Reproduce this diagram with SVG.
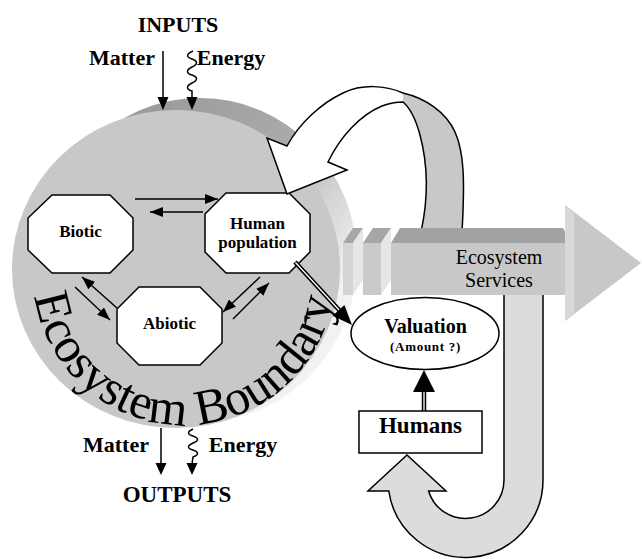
<svg xmlns="http://www.w3.org/2000/svg" width="642" height="559" viewBox="0 0 642 559">
<style>
.t{font-family:"Liberation Serif","Times New Roman",serif;fill:#000}
.b{font-weight:bold}
.oct{fill:#fff;stroke:#000;stroke-width:1.5}
.ln{stroke:#000;stroke-width:1.5;fill:none}
.hd{fill:#000}
</style>
<defs>
<linearGradient id="rimG" gradientUnits="userSpaceOnUse" x1="170" y1="95" x2="360" y2="265">
<stop offset="0" stop-color="#9c9c9c"/>
<stop offset="0.45" stop-color="#aaaaaa"/>
<stop offset="0.75" stop-color="#d6d6d6"/>
<stop offset="1" stop-color="#f2f2f2"/>
</linearGradient>
<marker id="ah" markerUnits="userSpaceOnUse" markerWidth="13" markerHeight="10" refX="13" refY="5" orient="auto">
<path d="M0,0 L13,5 L0,10 z" fill="#000"/>
</marker>
<path id="bp" d="M 33 274 A 151 151 0 0 0 335 274"/>
</defs>

<g id="ecosystem">
<ellipse cx="200" cy="260" rx="157" ry="162" fill="url(#rimG)"/>
<ellipse cx="176" cy="269" rx="164" ry="159" fill="#c8c8c8"/>
<text class="t" font-size="50"><textPath href="#bp" startOffset="22">Ecosystem Boundary</textPath></text>
</g>

<g id="inputs">
<text class="t b" x="178" y="32" font-size="22" text-anchor="middle">INPUTS</text>
<text class="t b" x="122" y="65" font-size="22" text-anchor="middle">Matter</text>
<text class="t b" x="231" y="65" font-size="22" text-anchor="middle">Energy</text>
<line class="ln" x1="163" y1="51" x2="163" y2="98"/>
<polygon class="hd" points="157.5,97 168.5,97 163,110"/>
<path class="ln" d="M 193 51 c -7 3 -7 6 -1 8 c 6 2 6 5 0 8 c -6 3 -6 6 0 8 c 6 2 6 5 0 8 c -6 3 -6 6 0 8 L 192 98"/>
<polygon class="hd" points="186.5,97 197.5,97 192,110"/>
</g>

<g id="outputs">
<text class="t b" x="116" y="452" font-size="22" text-anchor="middle">Matter</text>
<text class="t b" x="243" y="452" font-size="22" text-anchor="middle">Energy</text>
<text class="t b" x="177" y="502" font-size="23" text-anchor="middle">OUTPUTS</text>
<line class="ln" x1="161" y1="428" x2="161" y2="464"/>
<polygon class="hd" points="155.5,463 166.5,463 161,475"/>
<path class="ln" d="M 193 429 c -6 3 -6 5 0 7 c 6 2 6 5 0 7 c -6 3 -6 5 0 7 c 6 2 6 5 0 7 L 192 464"/>
<polygon class="hd" points="186.5,463 197.5,463 192,475"/>
</g>

<g id="biotic">
<polygon class="oct" points="52,195 110,195 133,218 133,250 110,273 52,273 28,250 28,218"/>
<text class="t b" x="80.5" y="237" font-size="17" text-anchor="middle">Biotic</text>
</g>
<g id="human-population">
<polygon class="oct" points="226,193 289,193 310,214 310,252 289,273 226,273 205,252 205,214"/>
<text class="t b" x="257.5" y="229" font-size="17" text-anchor="middle">Human</text>
<text class="t b" x="257.5" y="248" font-size="17" text-anchor="middle">population</text>
</g>
<g id="abiotic">
<polygon class="oct" points="139,287 200,287 222,309 222,343 200,365 139,365 117,343 117,309"/>
<text class="t b" x="169.5" y="329" font-size="17" text-anchor="middle">Abiotic</text>
</g>

<g id="feedback-arrow">
<path d="M 403 93 C 425 98 446 112 455 132 C 464 152 465 180 462 232 L 421 232 C 428 200 428 165 420 135 C 416 120 410 108 403 102 Z" fill="#c8c8c8"/>
<path d="M 403 93 C 385 85 362 84 343 93 C 322 103 300 122 287 146 L 267 138 L 287 194 L 347 170 L 328 162 C 340 137 360 115 382 106 C 390 103 397 102 403 102 Z" fill="#fff"/>
<path d="M 462 232 C 465 180 464 152 455 132 C 446 112 425 98 403 93 C 385 85 362 84 343 93 C 322 103 300 122 287 146 L 267 138 L 287 194 L 347 170 L 328 162 C 340 137 360 115 382 106 C 390 103 397 102 403 102 C 410 108 416 120 420 135 C 428 165 428 200 421 232" fill="none" stroke="#000" stroke-width="1.5"/>
</g>

<g id="ecosystem-services">
<polygon points="343,243 353,228 363,228 353,243" fill="#a6a6a6"/>
<rect x="343" y="243" width="10" height="52" fill="#d4d4d4"/>
<polygon points="353,243 363,228 363,280 353,295" fill="#e6e6e6"/>
<polygon points="363,243 373,228 391,228 381,243" fill="#a6a6a6"/>
<rect x="363" y="243" width="18" height="52" fill="#cacaca"/>
<polygon points="381,243 391,228 391,280 381,295" fill="#e6e6e6"/>
<polygon points="391,243 400,228 563,228 571,243" fill="#a2a2a2"/>
<rect x="391" y="243" width="176" height="52" fill="#c8c8c8"/>
<polygon points="565,205 641,263 565,321" fill="#c8c8c8"/>
<polygon points="565,205 574,213 574,313 565,321" fill="#d8d8d8"/>
<text class="t" x="499" y="264" font-size="20" text-anchor="middle" fill="#1a1a1a">Ecosystem</text>
<text class="t" x="499" y="287" font-size="20" text-anchor="middle" fill="#1a1a1a">Services</text>
</g>

<g id="return-arrow">
<path d="M 543 295 L 543 480 A 77.5 77.5 0 0 1 388.8 491 L 368 491 L 407 455 L 446 491 L 428.6 491 A 38.5 38.5 0 0 0 504 480 L 504 295" fill="#dcdcdc" stroke="#000" stroke-width="1.5"/>
</g>

<g id="connectors">
<line class="ln" x1="135" y1="199" x2="218" y2="199" marker-end="url(#ah)"/>
<line class="ln" x1="203" y1="212" x2="150" y2="212" marker-end="url(#ah)"/>
<line class="ln" x1="75" y1="287" x2="110" y2="320" marker-end="url(#ah)"/>
<line class="ln" x1="117" y1="308" x2="82" y2="277" marker-end="url(#ah)"/>
<line class="ln" x1="260" y1="277" x2="223" y2="312" marker-end="url(#ah)"/>
<line class="ln" x1="233" y1="319" x2="269" y2="283" marker-end="url(#ah)"/>
<line x1="295" y1="262" x2="340" y2="311" stroke="#000" stroke-width="4.5"/>
<line x1="295.5" y1="262.5" x2="340" y2="311" stroke="#fff" stroke-width="1.3"/>
<polygon class="hd" points="332.6,315.7 344.4,304.9 352,325"/>
<line x1="424" y1="412" x2="424" y2="390" stroke="#000" stroke-width="4.5"/>
<line x1="424" y1="411" x2="424" y2="390" stroke="#fff" stroke-width="1.3"/>
<polygon class="hd" points="413,392 435,392 424,370"/>
</g>

<g id="valuation">
<ellipse cx="425" cy="333.5" rx="74" ry="36" fill="#fff" stroke="#000" stroke-width="1.5"/>
<text class="t b" x="425.5" y="333" font-size="20" text-anchor="middle">Valuation</text>
<text class="t b" x="425.5" y="351" font-size="13" letter-spacing="0.7" text-anchor="middle">(Amount ?)</text>
</g>

<g id="humans">
<rect x="359" y="411" width="123" height="42" fill="#fff" stroke="#000" stroke-width="1.5"/>
<text class="t b" x="420.5" y="433" font-size="23" text-anchor="middle">Humans</text>
</g>
</svg>
